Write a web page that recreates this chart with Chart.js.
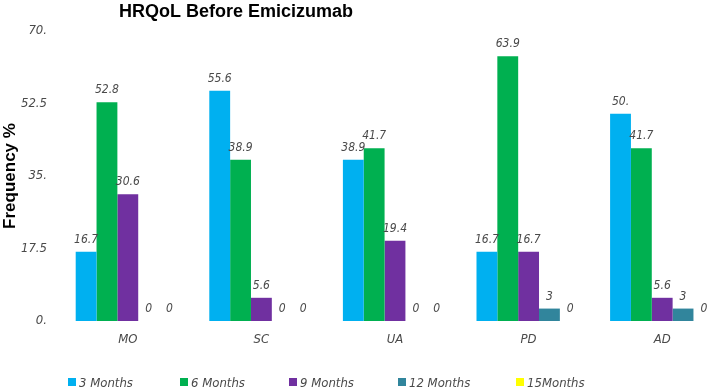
<!DOCTYPE html>
<html>
<head>
<meta charset="utf-8">
<script src="https://cdn.jsdelivr.net/npm/chart.js@4"></script>
<style>
html, body { margin: 0; padding: 0; background: #fff; overflow: hidden; }
#wrap { width: 730px; height: 388px; }
</style>
</head>
<body>
<div id="wrap"><canvas id="myChart"></canvas></div>
<script>
// Data
const categories = ['MO', 'SC', 'UA', 'PD', 'AD'];
const seriesNames = ['3 Months', '6 Months', '9 Months', '12 Months', '15Months'];
const months3 = [16.7, 55.6, 38.9, 16.7, 50];
const months6 = [52.8, 38.9, 41.7, 63.9, 41.7];
const months9 = [30.6, 5.6, 19.4, 16.7, 5.6];
const months12 = [0, 0, 0, 3, 3];
const months15 = [0, 0, 0, 0, 0];
const tickValues = [0, 17.5, 35, 52.5, 70];
const tickLabels = ['0.', '17.5', '35.', '52.5', '70.'];
const seriesColors = ['#00B0F0', '#00B050', '#7030A0', '#31859C', '#FFFF00'];

const NARROW = "'Liberation Sans Narrow', 'DejaVu Sans Condensed', Roboto, sans-serif";
const BOLD = "'Liberation Sans', Arial, sans-serif";
const TEXT_GREY = '#4a4a4a';

const fmt = v => (Number.isInteger(v) && v >= 10) ? v + '.' : String(v);

// Value labels above bars
const valueLabels = {
    id: 'valueLabels',
    afterDatasetsDraw(chart) {
        const ctx = chart.ctx;
        ctx.save();
        ctx.font = 'italic 12px ' + NARROW;
        ctx.fillStyle = TEXT_GREY;
        ctx.textAlign = 'center';
        ctx.textBaseline = 'alphabetic';
        chart.data.datasets.forEach((ds, i) => {
            chart.getDatasetMeta(i).data.forEach((bar, j) => {
                ctx.fillText(fmt(ds.data[j]), bar.x, bar.y - 9);
            });
        });
        ctx.restore();
    }
};

// Title and legend
const legendX = [68, 180, 289, 398, 516];

const extras = {
    id: 'extras',
    afterDraw(chart) {
        const ctx = chart.ctx;
        ctx.save();
        ctx.font = 'bold 18px ' + BOLD;
        ctx.fillStyle = '#000';
        ctx.textAlign = 'center';
        ctx.textBaseline = 'alphabetic';
        ctx.fillText('HRQoL Before Emicizumab', 236, 17);

        ctx.font = 'italic 13px ' + NARROW;
        ctx.textAlign = 'left';
        chart.data.datasets.forEach((ds, i) => {
            const x = legendX[i];
            ctx.fillStyle = ds.backgroundColor;
            ctx.fillRect(x, 378, 8, 8);
            ctx.fillStyle = TEXT_GREY;
            ctx.fillText(ds.label, x + 11, 387);
        });
        ctx.restore();
    }
};

const allSeries = [months3, months6, months9, months12, months15];

const ctx = document.getElementById('myChart').getContext('2d');

new Chart(ctx, {
    type: 'bar',
    data: {
        labels: categories,
        datasets: allSeries.map((d, i) => ({
            label: seriesNames[i],
            data: d,
            backgroundColor: seriesColors[i],
            barPercentage: 1,
            categoryPercentage: 0.78
        }))
    },
    options: {
        responsive: true,
        maintainAspectRatio: false,
        animation: false,
        layout: { padding: { top: 31, left: 0, right: 1, bottom: 0 } },
        plugins: {
            legend: { display: false },
            title: { display: false },
            tooltip: { enabled: false }
        },
        scales: {
            x: {
                grid: { display: false, drawTicks: false },
                border: { display: false },
                ticks: {
                    padding: 11,
                    color: TEXT_GREY,
                    font: { family: NARROW, size: 13, style: 'italic' }
                },
                afterFit(scale) { scale.height = 67; }
            },
            y: {
                min: 0,
                max: 70,
                grid: { display: false, drawTicks: false },
                border: { display: false },
                afterBuildTicks(scale) {
                    scale.ticks = tickValues.map(v => ({ value: v }));
                },
                ticks: {
                    padding: 14,
                    color: TEXT_GREY,
                    font: { family: NARROW, size: 13, style: 'italic' },
                    callback: (v) => tickLabels[tickValues.indexOf(v)]
                },
                title: {
                    display: true,
                    text: 'Frequency %',
                    color: '#000',
                    padding: 0,
                    font: { family: BOLD, size: 17, weight: 'bold' }
                },
                afterFit(scale) { scale.width = 61; }
            }
        }
    },
    plugins: [valueLabels, extras]
});
</script>
</body>
</html>
